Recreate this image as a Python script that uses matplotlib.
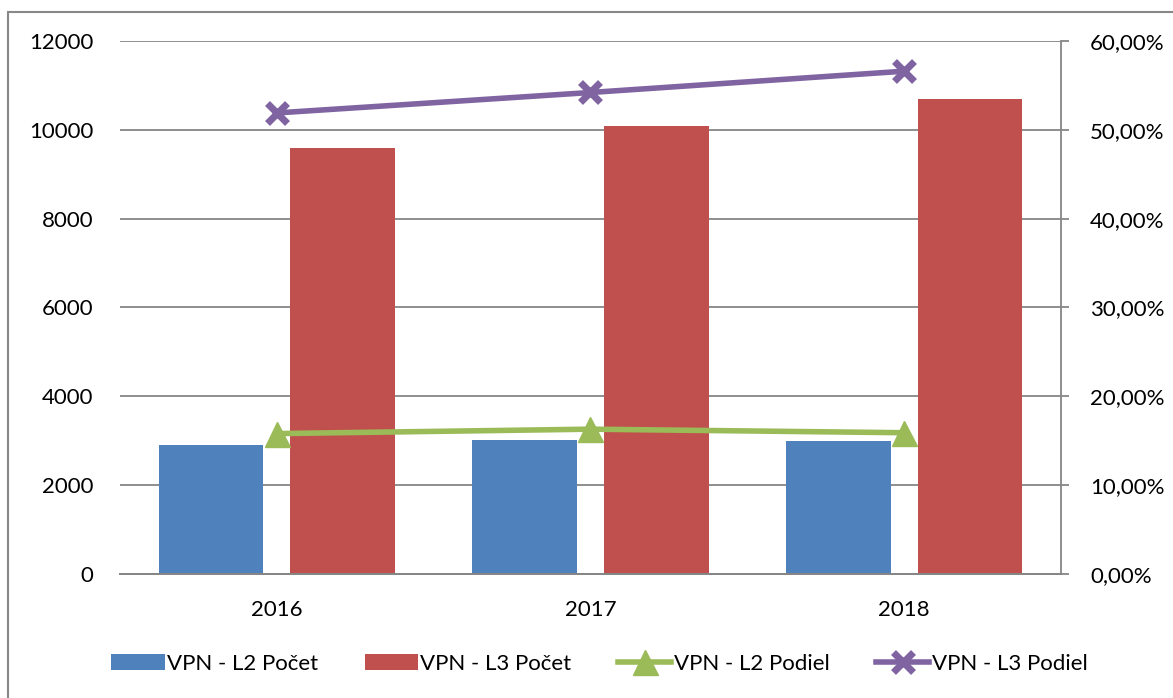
import matplotlib
matplotlib.use("Agg")
import matplotlib.pyplot as plt
from matplotlib.patches import Rectangle
from matplotlib.ticker import FuncFormatter
import numpy as np

years = ["2016", "2017", "2018"]
l2_count = [2905, 3015, 2985]
l3_count = [9590, 10085, 10690]
l2_share = [15.8, 16.3, 15.9]
l3_share = [51.9, 54.2, 56.6]

blue = "#4F81BD"
red = "#C0504D"
green = "#9BBB59"
purple = "#8064A2"
grid = "#868686"

plt.rcParams['font.family'] = ['Lato', 'DejaVu Sans']
fs = 16

fig = plt.figure(figsize=(11.73, 6.98), dpi=100)
ax = fig.add_axes([0.1023, 0.1777, 0.8022, 0.7636])
ax2 = ax.twinx()

x = np.arange(len(years))
w = 0.333
ax.bar(x - 0.21, l2_count, w, color=blue, label="VPN - L2 Počet", zorder=2)
ax.bar(x + 0.21, l3_count, w, color=red, label="VPN - L3 Počet", zorder=2)
ax.set_xlim(-0.5, 2.5)
ax.set_ylim(0, 12000)
ax.set_yticks(range(0, 12001, 2000))
ax.yaxis.grid(True, color=grid, linewidth=1.3)
ax.set_axisbelow(True)
ax.set_xticks(x)
ax.set_xticklabels(years)
ax.tick_params(axis='x', length=0, labelsize=fs, pad=19)
ax.tick_params(axis='y', length=0, labelsize=fs, pad=19)

ax2.plot(x, l2_share, color=green, linewidth=4, marker='^', markersize=18,
         label="VPN - L2 Podiel", zorder=3)
ax2.plot(x, l3_share, color=purple, linewidth=4, marker='x', markersize=15,
         markeredgewidth=5, label="VPN - L3 Podiel", zorder=3)
ax2.set_ylim(0, 60)
ax2.set_yticks(range(0, 61, 10))
ax2.yaxis.set_major_formatter(FuncFormatter(lambda v, p: f"{v:.2f}%".replace(".", ",")))
ax2.tick_params(axis='y', length=6, width=1.3, color=grid, labelsize=fs, pad=15)

for a in (ax, ax2):
    for s in ("top", "left"):
        a.spines[s].set_visible(False)
    a.spines["bottom"].set_color(grid)
    a.spines["bottom"].set_linewidth(1.3)
    a.spines["right"].set_color(grid)
    a.spines["right"].set_linewidth(1.3)
ax.spines["right"].set_visible(False)

h1, l1 = ax.get_legend_handles_labels()
h2, l2 = ax2.get_legend_handles_labels()
fig.legend(h1 + h2, l1 + l2, loc="center", bbox_to_anchor=(0.511, 0.049), ncol=4,
           frameon=False, fontsize=fs, handlelength=2.4, handletextpad=0.1,
           columnspacing=2.1)

fig.patches.append(Rectangle((8 / 1173, -0.05), 1.2, 1 - 12 / 698 + 0.05,
                             transform=fig.transFigure, fill=False,
                             edgecolor="#888888", linewidth=1.5))

fig.savefig("out.png", dpi=100)
